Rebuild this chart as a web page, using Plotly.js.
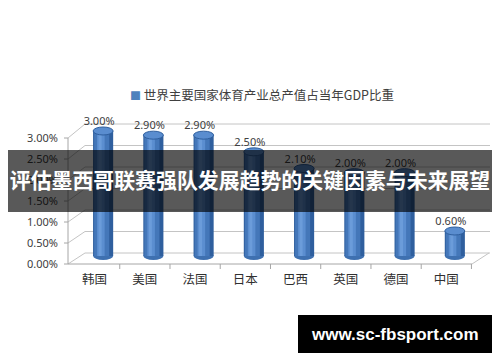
<!DOCTYPE html>
<html>
<head>
<meta charset="utf-8">
<script src="https://cdn.plot.ly/plotly-3.0.1.min.js"></script>
<style>
  html, body { margin: 0; padding: 0; background: #ffffff; }
  #chart { width: 500px; height: 362px; }
</style>
</head>
<body>
<div id="chart"></div>
<script>
// ---- data ----
const countries = ['韩国', '美国', '法国', '日本', '巴西', '英国', '德国', '中国'];
const shares = [3.0, 2.9, 2.9, 2.5, 2.1, 2.0, 2.0, 0.6];           // % of GDP
const shareLabels = ['3.00%', '2.90%', '2.90%', '2.50%', '2.10%', '2.00%', '2.00%', '0.60%'];
const yTickVals = [0, 0.5, 1, 1.5, 2, 2.5, 3];
const yTickText = ['0.00%', '0.50%', '1.00%', '1.50%', '2.00%', '2.50%', '3.00%'];
const seriesName = '世界主要国家体育产业总产值占当年GDP比重';
const headline = '评估墨西哥联赛强队发展趋势的关键因素与未来展望';
const siteMark = 'www.sc-fbsport.com';

// ---- pseudo-3D frame geometry (pixels) ----
const W = 500, H = 362;
const PL = 78, PR = 490, PT = 110, PB = 264;     // plot area
const px = x => (x - PL) / (PR - PL);             // pixel -> paper x
const py = y => (PB - y) / (PB - PT);             // pixel -> paper y
const FRONT_X = 68, BACK_X = 85;
const frontY = v => 264 - 42 * v;                 // front edge of side wall
const backY = v => 253 - 43 * v;                  // back wall
const BAR_ZERO = 256, BAR_K = 41.67;              // column base and px per 1%
const UNIT = (PR - PL) / 8.2;                     // px per category

const idx = countries.map((_, i) => i);
const xRange = [-0.5, 7.7];
const yRange = [-(PB - BAR_ZERO) / BAR_K, (BAR_ZERO - PT) / BAR_K];
const shiftX = p => [xRange[0] + p / UNIT, xRange[1] + p / UNIT];   // moves content p px left
const shiftY = p => [yRange[0] - p / BAR_K, yRange[1] - p / BAR_K]; // moves content p px up

// ---- column traces: overlaid strips give the cylinder shading ----
const strips = [
  { w: 0.40, off: -0.20, c: '#2f5f9e' },
  { w: 0.30, off: -0.18, c: '#4477b9' },
  { w: 0.15, off: -0.12, c: '#5b8ed0' },
  { w: 0.06, off: -0.09, c: '#6b9cda' }
];
const traces = strips.map((s, k) => ({
  type: 'bar', x: idx, y: shares, width: s.w, offset: s.off,
  marker: { color: s.c, line: { width: 0 } },
  hoverinfo: 'skip', showlegend: false, name: k === 0 ? seriesName : ''
}));

// value labels
traces.push({
  type: 'scatter', mode: 'text', x: idx, y: shares, text: shareLabels,
  xaxis: 'x3', yaxis: 'y3', textposition: 'top center',
  textfont: { family: 'Noto Sans', size: 11, color: '#404040' },
  hoverinfo: 'skip', showlegend: false, cliponaxis: false
});
// carrier for the category / front value axes
traces.push({
  type: 'scatter', mode: 'none', x: idx, y: shares, xaxis: 'x2', yaxis: 'y2',
  hoverinfo: 'skip', showlegend: false
});

// ---- shapes ----
const shapes = [];
const grid = { color: '#c4c4c4', width: 1 };
const edge = { color: '#a6a6a6', width: 1 };
// back wall gridlines and side-wall diagonals
yTickVals.forEach(v => {
  shapes.push({ type: 'line', xref: 'paper', yref: 'paper', layer: 'below',
    x0: px(BACK_X), x1: px(PR), y0: py(backY(v)), y1: py(backY(v)), line: grid });
  shapes.push({ type: 'line', xref: 'paper', yref: 'paper', layer: 'below',
    x0: px(FRONT_X), x1: px(BACK_X), y0: py(frontY(v)), y1: py(backY(v)), line: grid });
  shapes.push({ type: 'line', xref: 'paper', yref: 'paper', layer: 'below',
    x0: px(FRONT_X - 4), x1: px(FRONT_X), y0: py(frontY(v)), y1: py(frontY(v)), line: edge });
});
// vertical axis line
shapes.push({ type: 'line', xref: 'paper', yref: 'paper', layer: 'below',
  x0: px(FRONT_X), x1: px(FRONT_X), y0: py(frontY(0)), y1: py(frontY(3)), line: edge });
// floor front edge and right edge
const FLOOR_R = 472;
shapes.push({ type: 'line', xref: 'paper', yref: 'paper', layer: 'below',
  x0: px(FRONT_X), x1: px(FLOOR_R), y0: py(frontY(0)), y1: py(frontY(0)), line: edge });
shapes.push({ type: 'line', xref: 'paper', yref: 'paper', layer: 'below',
  x0: px(FLOOR_R), x1: px(PR - 1), y0: py(frontY(0)), y1: py(backY(0)), line: grid });
// category boundary ticks
for (let i = 0; i <= countries.length; i++) {
  shapes.push({ type: 'line', xref: 'x2', yref: 'paper', layer: 'below',
    x0: i - 0.5, x1: i - 0.5, y0: py(frontY(0)), y1: py(frontY(0) + 5), line: edge });
}
// cylinder bottoms and tops
idx.forEach((i, k) => {
  shapes.push({ type: 'circle', xref: 'x', yref: 'y', layer: 'below',
    xsizemode: 'pixel', ysizemode: 'pixel', xanchor: i, yanchor: 0,
    x0: -10, x1: 10, y0: -4, y1: 4, fillcolor: '#3e70b0', line: { width: 0 } });
  shapes.push({ type: 'circle', xref: 'x', yref: 'y', layer: 'above',
    xsizemode: 'pixel', ysizemode: 'pixel', xanchor: i, yanchor: shares[k],
    x0: -10, x1: 10, y0: -4, y1: 4, fillcolor: '#5a8dcf', line: { color: '#2f5f9e', width: 1 } });
});
// headline band
shapes.push({ type: 'rect', xref: 'paper', yref: 'paper', layer: 'above',
  x0: px(8), x1: px(492), y0: py(212), y1: py(150),
  fillcolor: 'rgba(0,0,0,0.65)', line: { width: 0 } });
// site mark box
shapes.push({ type: 'rect', xref: 'paper', yref: 'paper', layer: 'above',
  x0: px(298), x1: px(492), y0: py(353), y1: py(315),
  fillcolor: '#000000', line: { width: 0 } });

// ---- annotations ----
const annotations = [
  { xref: 'paper', yref: 'paper', x: px(262), y: py(94), xanchor: 'center', yanchor: 'middle',
    showarrow: false,
    text: '<span style="color:#4f81bd;font-size:11px">■</span> ' + seriesName,
    font: { family: 'Noto Sans CJK SC', size: 12.5, color: '#404040' } },
  { xref: 'paper', yref: 'paper', x: px(395), y: py(334), xanchor: 'center', yanchor: 'middle',
    showarrow: false, text: siteMark,
    font: { family: 'Liberation Sans', size: 17, color: '#ffffff', weight: 700 } }
];

const layout = {
  width: W, height: H,
  margin: { l: PL, r: W - PR, t: PT, b: H - PB, pad: 0 },
  paper_bgcolor: '#ffffff', plot_bgcolor: 'rgba(0,0,0,0)',
  barmode: 'overlay', showlegend: false,
  title: { text: headline, x: 0.5, xanchor: 'center', xref: 'container',
    y: 1 - 181 / H, yanchor: 'middle', yref: 'container',
    font: { family: 'Noto Sans CJK SC', size: 20.9, color: '#ffffff', weight: 700 } },
  xaxis: { range: xRange, showgrid: false, zeroline: false, showticklabels: false, ticks: '' },
  xaxis2: { overlaying: 'x', range: shiftX(8.5), tickvals: idx, ticktext: countries,
    showgrid: false, zeroline: false, ticks: '', side: 'bottom', anchor: 'y2',
    ticklabelstandoff: 6,
    tickfont: { family: 'Noto Sans CJK SC', size: 12.5, color: '#303030' } },
  xaxis3: { overlaying: 'x', range: shiftX(4), visible: false },
  yaxis: { range: yRange, showgrid: false, zeroline: false, showticklabels: false, ticks: '' },
  yaxis2: { overlaying: 'y', anchor: 'x', side: 'left',
    range: [(264 - PB) / 42, (264 - PT) / 42],
    tickvals: yTickVals, ticktext: yTickText, showgrid: false, zeroline: false, ticks: '',
    ticklabelstandoff: 19,
    tickfont: { family: 'Noto Sans', size: 11, color: '#404040' } },
  yaxis3: { overlaying: 'y', anchor: 'x3', range: shiftY(3), visible: false },
  shapes: shapes,
  annotations: annotations
};

Plotly.newPlot('chart', traces, layout, { displayModeBar: false, staticPlot: true });
</script>
</body>
</html>
